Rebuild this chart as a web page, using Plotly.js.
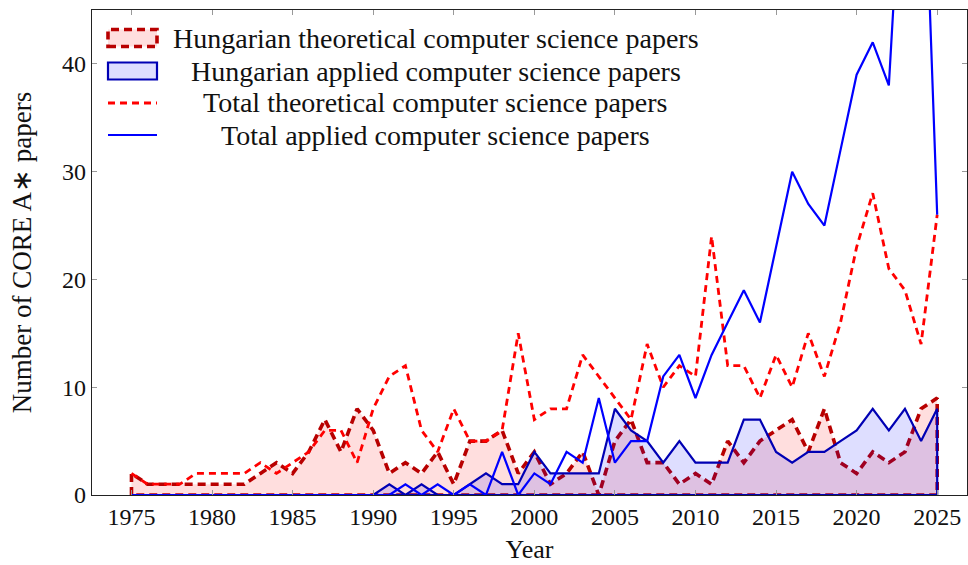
<!DOCTYPE html>
<html>
<head>
<meta charset="utf-8">
<script src="https://cdn.plot.ly/plotly-3.0.1.min.js"></script>
<style>html,body{margin:0;padding:0;background:#fff;}#chart{width:968px;height:565px;}</style>
</head>
<body>
<div id="chart"></div>
<script>
// ---- data ----
const years = [1975,1976,1977,1978,1979,1980,1981,1982,1983,1984,1985,1986,1987,1988,1989,
  1990,1991,1992,1993,1994,1995,1996,1997,1998,1999,2000,2001,2002,2003,2004,2005,2006,2007,
  2008,2009,2010,2011,2012,2013,2014,2015,2016,2017,2018,2019,2020,2021,2022,2023,2024,2025];
const huTheoretical = [2,1,1,1,1,1,1,1,2,3,2,4,7,4,8,
  6,2,3,2,4,1,5,5,6,2,4,1,2,4,0,5,7,3,
  3,1,2,1,5,3,5,6,7,4,8,3,2,4,3,4,8,9];
const huApplied = [0,0,0,0,0,0,0,0,0,0,0,0,0,0,0,
  0,1,0,1,0,0,1,2,1,1,4,2,2,2,2,8,6,5,
  3,5,3,3,3,7,7,4,3,4,4,5,6,8,6,8,5,8];
const totTheoretical = [2,1,1,1,2,2,2,2,3,2,3,4,6,6,3,
  8,11,12,6,4,8,5,5,6,15,7,8,8,13,11,9,7,14,
  10,12,11,24,12,12,9,13,10,15,11,16,23,28,21,19,14,26];
const totApplied = [0,0,0,0,0,0,0,0,0,0,0,0,0,0,0,
  0,0,1,0,1,0,1,0,4,0,2,1,4,3,9,3,5,5,
  11,13,9,13,16,19,16,23,30,27,25,32,39,42,38,64,68,26];
const xTicks = [1975,1980,1985,1990,1995,2000,2005,2010,2015,2020,2025];
const yTicks = [0,10,20,30,40];
const seriesNames = [
  'Hungarian theoretical computer science papers',
  'Hungarian applied computer science papers',
  'Total theoretical computer science papers',
  'Total applied computer science papers'
];

// closed area path (like pgfplots \closedcycle): start at axis, follow data, back to axis
function closedX(xs){ return [xs[0]].concat(xs, [xs[xs.length-1], xs[0]]); }
function closedY(ys){ return [0].concat(ys, [0, 0]); }

const FONT = 'Liberation Serif, Times New Roman, serif';

const styles = [
  {line: {color: '#b80000', width: 3.6, dash: '8px,5px'}, fill: 'rgba(255,0,0,0.13)'},
  {line: {color: '#0000b4', width: 2.2}, fill: 'rgba(0,0,255,0.13)'},
  {line: {color: '#ff0000', width: 2.8, dash: '7px,5px'}},
  {line: {color: '#0000ff', width: 2.2}}
];

const traces = [
  {x: closedX(years), y: closedY(huTheoretical), name: seriesNames[0],
   type: 'scatter', mode: 'lines', fill: 'toself', fillcolor: styles[0].fill, line: styles[0].line},
  {x: closedX(years), y: closedY(huApplied), name: seriesNames[1],
   type: 'scatter', mode: 'lines', fill: 'toself', fillcolor: styles[1].fill, line: styles[1].line},
  {x: years, y: totTheoretical, name: seriesNames[2],
   type: 'scatter', mode: 'lines', line: styles[2].line},
  {x: years, y: totApplied, name: seriesNames[3],
   type: 'scatter', mode: 'lines', line: styles[3].line}
];

// ---- legend (pgfplots style: area boxes, centred text) ----
const plotL = 92, plotW = 875, plotT = 10, plotH = 485;
const px2x = p => (p - plotL) / plotW;
const px2y = p => (plotT + plotH - p) / plotH;
const legRowsY = [38, 71, 103, 135];
const symX0 = px2x(108), symX1 = px2x(157);
const shapes = [];
const annotations = [];
legRowsY.forEach((ry, i) => {
  const st = styles[i];
  if (st.fill) {
    shapes.push({type: 'rect', xref: 'paper', yref: 'paper',
      x0: symX0, x1: symX1, y0: px2y(ry + 8.5), y1: px2y(ry - 8.5),
      fillcolor: st.fill, line: st.line});
  } else {
    shapes.push({type: 'line', xref: 'paper', yref: 'paper',
      x0: symX0, x1: symX1, y0: px2y(ry), y1: px2y(ry), line: st.line});
  }
  annotations.push({xref: 'paper', yref: 'paper', x: px2x(435.5), y: px2y(ry),
    xanchor: 'center', yanchor: 'middle', showarrow: false, text: seriesNames[i],
    font: {family: FONT, size: 28, color: '#111'}});
});

const axisCommon = {
  showgrid: false, zeroline: false,
  showline: true, linecolor: '#222', linewidth: 1.2, mirror: 'ticks',
  ticks: 'inside', ticklen: 5, tickwidth: 1, tickcolor: '#999',
  tickfont: {family: FONT, size: 24, color: '#111'}
};

const layout = {
  width: 968, height: 565,
  margin: {l: plotL, r: 968 - plotL - plotW, t: plotT, b: 565 - plotT - plotH},
  paper_bgcolor: '#fff', plot_bgcolor: '#fff',
  showlegend: false,
  shapes: shapes,
  annotations: annotations,
  xaxis: Object.assign({}, axisCommon, {
    range: [1972.55, 2026.85],
    tickmode: 'array', tickvals: xTicks, ticktext: xTicks.map(String),
    title: {text: 'Year', font: {family: FONT, size: 26, color: '#111'}, standoff: 10}
  }),
  yaxis: Object.assign({}, axisCommon, {
    range: [0, 45],
    tickmode: 'array', tickvals: yTicks, ticktext: yTicks.map(String),
    title: {text: 'Number of CORE A\u2217 papers', font: {family: FONT, size: 27, color: '#111'}, standoff: 22}
  })
};

Plotly.newPlot('chart', traces, layout, {staticPlot: true, displayModeBar: false});
</script>
</body>
</html>
